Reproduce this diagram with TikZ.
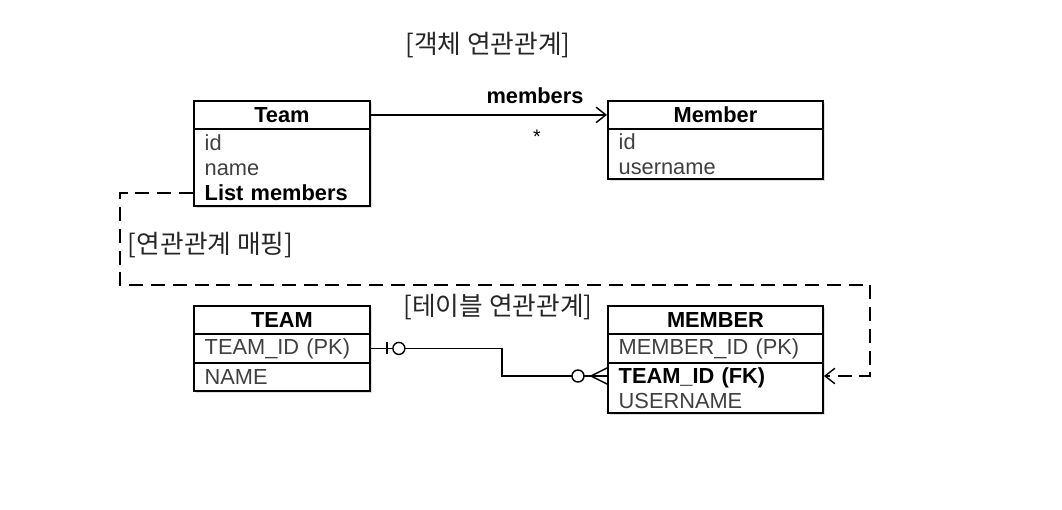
\documentclass[tikz,border=0pt]{standalone}
\usepackage{fontspec}
\setmainfont{Liberation Sans}
\newfontfamily\kr{Noto Sans CJK KR}
\usetikzlibrary{arrows.meta,shadows}

\tikzset{
  box/.style={draw, line width=1.3pt, fill=white, inner sep=0pt,
    drop shadow={shadow xshift=0.05cm, shadow yshift=-0.05cm, opacity=0.25}},
  hdr/.style={box, font=\fontsize{15.5}{18}\selectfont\bfseries},
  rows/.style={box, align=left, inner xsep=0.27cm, text=black!75,
    font=\fontsize{15.5}{17.8}\selectfont},
  krlabel/.style={font=\kr\fontsize{18.3}{20}\selectfont, text=black!85},
  conn/.style={line width=1pt},
  open/.style={-{Straight Barb[length=7pt,width=11pt,line width=1pt]}}
}

\begin{document}
\begin{tikzpicture}[x=0.025cm, y=-0.025cm]
        \useasboundingbox (0,0) rectangle (1062,510);
        % object model
        \node [krlabel] (objtitle) at (488,45) {[객체 연관관계]};
        \node [hdr, anchor=north west, minimum width=4.4cm, minimum height=0.7cm] (team) at (193,100) {Team};
        \node [rows, anchor=north west, text width=3.86cm, minimum height=1.925cm] (tbody) at (193,128)
              {id\\name\\\textcolor{black}{\bfseries List members}};
        \node [hdr, anchor=north west, minimum width=5.375cm, minimum height=0.7cm] (member) at (607,100) {Member};
        \node [rows, anchor=north west, text width=4.835cm, minimum height=1.25cm] (mbody) at (607,128)
              {id\\username};
        \draw [conn, open] (team.east) -- (member.west);
        \node [font=\fontsize{15.5}{18}\selectfont\bfseries] (rolename) at (535,96) {members};
        \node [font=\fontsize{14}{16}\selectfont] (mult) at (537,137) {*};

        % table model
        \node [krlabel] (tbltitle) at (498,307) {[테이블 연관관계]};
        \node [hdr, anchor=north west, minimum width=4.4cm, minimum height=0.7cm] (TEAM) at (193,305) {TEAM};
        \node [rows, anchor=north west, text width=3.86cm, minimum height=0.725cm] (trow1) at (193,333) {TEAM\_ID (PK)};
        \node [rows, anchor=north west, text width=3.86cm, minimum height=0.7cm] (trow2) at (193,362) {NAME};
        \node [hdr, anchor=north west, minimum width=5.375cm, minimum height=0.7cm] (MEMBER) at (607,305) {MEMBER};
        \node [rows, anchor=north west, text width=4.835cm, minimum height=0.725cm] (mrow1) at (607,333) {MEMBER\_ID (PK)};
        \node [rows, anchor=north west, text width=4.835cm, minimum height=1.25cm] (mrow2) at (607,362)
              {\textcolor{black}{\bfseries TEAM\_ID (FK)}\\USERNAME};
        \coordinate (fk) at ([yshift=-0.35cm]mrow2.north west);
        \draw [conn] (trow1.east) -- ++(131,0) |- (fk);
        \draw [conn] ([xshift=0.4cm,yshift=0.15cm]trow1.east) -- ([xshift=0.4cm,yshift=-0.15cm]trow1.east);
        \draw [conn, fill=white] ([xshift=0.7cm]trow1.east) circle (0.15cm);
        \draw [conn] ([xshift=-0.4cm]fk) -- ([yshift=0.2cm]fk) ([xshift=-0.4cm]fk) -- ([yshift=-0.2cm]fk);
        \draw [conn, fill=white] ([xshift=-0.725cm]fk) circle (0.15cm);

        % mapping
        \coordinate (bendL) at (120,285);
        \coordinate (bendR) at (870,285);
        \draw [conn, dash pattern=on 10pt off 5.5pt, open] ([yshift=0.35cm]tbody.south west) -| (bendL) -- (bendR)
              |- ([yshift=-0.35cm]mrow2.north east);
        \node [krlabel, anchor=west] (maplabel) at (123,245) {[연관관계 매핑]};
\end{tikzpicture}
\end{document}
